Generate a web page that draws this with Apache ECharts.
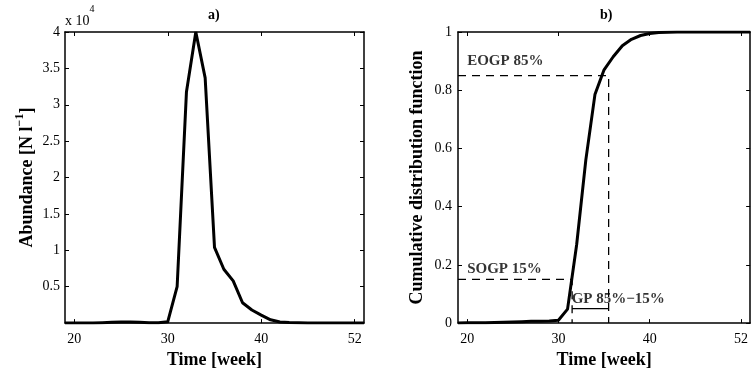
<!DOCTYPE html>
<html>
<head>
<meta charset="utf-8">
<script src="https://cdn.jsdelivr.net/npm/echarts@6/dist/echarts.min.js"></script>
<style>
  html, body { margin: 0; padding: 0; background: #ffffff; }
  #chart { width: 751px; height: 374px; }
</style>
</head>
<body>
<div id="chart"></div>
<script>
// Weekly sampling positions (axis runs from week 19 to 51)
const weeks = [19, 20, 21, 22, 23, 24, 25, 26, 27, 28, 29, 30, 31, 32, 33, 34, 35,
               36, 37, 38, 39, 40, 41, 42, 43, 44, 45, 46, 47, 48, 49, 50, 51];

// Abundance [N l^-1]
const abundance = [0, 0, 0, 0, 50, 100, 150, 150, 100, 50, 50, 200, 5000, 31800, 40000, 33700, 10400,
                   7400, 5800, 2800, 1800, 1100, 450, 150, 80, 50, 20, 10, 0, 0, 0, 0, 0];

// Cumulative distribution function of abundance
const cdf = [0, 0.001, 0.001, 0.001, 0.002, 0.003, 0.004, 0.005, 0.006, 0.006, 0.007, 0.01, 0.048, 0.27, 0.56, 0.785, 0.87,
             0.915, 0.953, 0.975, 0.988, 0.995, 0.998, 0.999, 1, 1, 1, 1, 1, 1, 1, 1, 1];

// Axis ticks and their labels
const xMin = 19, xMax = 51;
const xTickValues = [20, 30, 40, 50];
const xTickLabels = ['20', '30', '40', '52'];
const abundanceTicks = [5000, 10000, 15000, 20000, 25000, 30000, 35000, 40000];
const abundanceTickLabels = ['0.5', '1', '1.5', '2', '2.5', '3', '3.5', '4'];
const cdfTicks = [0, 0.2, 0.4, 0.6, 0.8, 1];
const cdfTickLabels = ['0', '0.2', '0.4', '0.6', '0.8', '1'];

// Growing period: start (15%) and end (85%) of the season
const sogpWeek = 31.5, sogpLevel = 0.15;
const eogpWeek = 35.5, eogpLevel = 0.85;
const gpBarLevel = 0.05;

// Annotation texts: [week, level, text]
const annotations = [
  [20, 0.9, 'EOGP 85%'],
  [20, 0.185, 'SOGP 15%'],
  [31.45, 0.082, 'GP 85%\u221215%']
];

const FONT = '"Liberation Serif", "DejaVu Serif", serif';
const BLACK = '#000000';

function tickLabel(values, labels) {
  return function (v) {
    const i = values.findIndex(t => Math.abs(t - v) < 1e-9);
    return i >= 0 ? labels[i] : '';
  };
}

function boxAxis(extra) {
  return Object.assign({
    type: 'value',
    axisLine: { show: true, onZero: false, lineStyle: { color: BLACK, width: 1.5 } },
    splitLine: { show: false },
    axisTick: { show: true, inside: true, length: 4, lineStyle: { color: BLACK, width: 1 } },
    axisLabel: { show: false }
  }, extra);
}

const labelStyle = { color: BLACK, fontFamily: FONT, fontSize: 14 };
const nameStyle = { color: BLACK, fontFamily: FONT, fontSize: 18, fontWeight: 'bold' };

const xBottom = (gridIndex) => boxAxis({
  gridIndex, position: 'bottom', min: xMin, max: xMax,
  axisTick: { show: true, inside: true, length: 4, customValues: xTickValues, lineStyle: { color: BLACK, width: 1 } },
  axisLabel: Object.assign({ show: true, margin: 9, customValues: xTickValues,
                             formatter: tickLabel(xTickValues, xTickLabels) }, labelStyle),
  name: 'Time [week]', nameLocation: 'middle', nameGap: 25, nameTextStyle: nameStyle
});
const xTop = (gridIndex) => boxAxis({
  gridIndex, position: 'top', min: xMin, max: xMax,
  axisTick: { show: true, inside: true, length: 4, customValues: xTickValues, lineStyle: { color: BLACK, width: 1 } }
});

const chart = echarts.init(document.getElementById('chart'), null, { renderer: 'canvas' });

chart.setOption({
  animation: false,
  backgroundColor: '#ffffff',
  grid: [
    { left: 65, top: 32, width: 299, height: 298, containLabel: false },
    { left: 458, top: 32, width: 299, height: 298, containLabel: false }
  ],
  xAxis: [xBottom(0), xTop(0), xBottom(1), xTop(1)],
  yAxis: [
    boxAxis({
      gridIndex: 0, position: 'left', min: 0, max: 40000,
      axisTick: { show: true, inside: true, length: 4, customValues: abundanceTicks, lineStyle: { color: BLACK, width: 1 } },
      axisLabel: Object.assign({ show: true, margin: 5, customValues: abundanceTicks,
                                 formatter: tickLabel(abundanceTicks, abundanceTickLabels) }, labelStyle),
      name: '{m|Abundance [N l}{s|\u22121}{m|]}', nameLocation: 'middle', nameGap: 29,
      nameTextStyle: {
        rich: {
          m: { color: BLACK, fontFamily: FONT, fontSize: 18, fontWeight: 'bold', lineHeight: 22, verticalAlign: 'bottom' },
          s: { color: BLACK, fontFamily: FONT, fontSize: 12, fontWeight: 'bold', lineHeight: 12, verticalAlign: 'top' }
        }
      }
    }),
    boxAxis({
      gridIndex: 0, position: 'right', min: 0, max: 40000,
      axisTick: { show: true, inside: true, length: 4, customValues: abundanceTicks, lineStyle: { color: BLACK, width: 1 } }
    }),
    boxAxis({
      gridIndex: 1, position: 'left', min: 0, max: 1,
      axisTick: { show: true, inside: true, length: 4, customValues: cdfTicks, lineStyle: { color: BLACK, width: 1 } },
      axisLabel: Object.assign({ show: true, margin: 6, customValues: cdfTicks,
                                 formatter: tickLabel(cdfTicks, cdfTickLabels) }, labelStyle),
      name: 'Cumulative distribution function', nameLocation: 'middle', nameGap: 32, nameTextStyle: nameStyle
    }),
    boxAxis({
      gridIndex: 1, position: 'right', min: 0, max: 1,
      axisTick: { show: true, inside: true, length: 4, customValues: cdfTicks, lineStyle: { color: BLACK, width: 1 } }
    })
  ],
  graphic: [
    { type: 'text', left: 208, top: 8, style: { text: 'a)', fill: BLACK, font: 'bold 14px ' + FONT } },
    { type: 'text', left: 600, top: 8, style: { text: 'b)', fill: BLACK, font: 'bold 14px ' + FONT } },
    {
      type: 'text', left: 65, top: 4,
      style: {
        text: '{m|x 10}{s|4}',
        rich: {
          m: { fill: BLACK, fontFamily: FONT, fontSize: 14, lineHeight: 24, verticalAlign: 'bottom' },
          s: { fill: BLACK, fontFamily: FONT, fontSize: 10, lineHeight: 12, verticalAlign: 'top' }
        }
      }
    }
  ],
  series: [
    {
      name: 'Abundance', type: 'line', xAxisIndex: 0, yAxisIndex: 0,
      data: weeks.map((w, i) => [w, abundance[i]]),
      showSymbol: false, symbol: 'none', silent: true,
      lineStyle: { color: BLACK, width: 3 }
    },
    {
      name: 'CDF', type: 'line', xAxisIndex: 2, yAxisIndex: 2,
      data: weeks.map((w, i) => [w, cdf[i]]),
      showSymbol: false, symbol: 'none', silent: true, z: 3,
      lineStyle: { color: BLACK, width: 3 }
    },
    {
      name: 'SOGP', type: 'line', xAxisIndex: 2, yAxisIndex: 2,
      data: [[xMin, sogpLevel], [sogpWeek, sogpLevel], [sogpWeek, 0]],
      showSymbol: false, symbol: 'none', silent: true,
      lineStyle: { color: BLACK, width: 1.3, type: [8, 6] }
    },
    {
      name: 'EOGP', type: 'line', xAxisIndex: 2, yAxisIndex: 2,
      data: [[xMin, eogpLevel], [eogpWeek, eogpLevel], [eogpWeek, 0]],
      showSymbol: false, symbol: 'none', silent: true,
      lineStyle: { color: BLACK, width: 1.3, type: [8, 6] }
    },
    {
      name: 'GP', type: 'line', xAxisIndex: 2, yAxisIndex: 2,
      data: [[sogpWeek, gpBarLevel], [eogpWeek, gpBarLevel]],
      showSymbol: false, symbol: 'none', silent: true,
      lineStyle: { color: BLACK, width: 1.3 }
    },
    {
      name: 'Annotations', type: 'scatter', xAxisIndex: 2, yAxisIndex: 2,
      data: annotations, symbolSize: 0, silent: true,
      label: {
        show: true, position: 'right', distance: 0,
        formatter: p => p.value[2],
        color: BLACK, fontFamily: FONT, fontSize: 15, fontWeight: 'bold'
      }
    }
  ]
});
</script>
</body>
</html>
